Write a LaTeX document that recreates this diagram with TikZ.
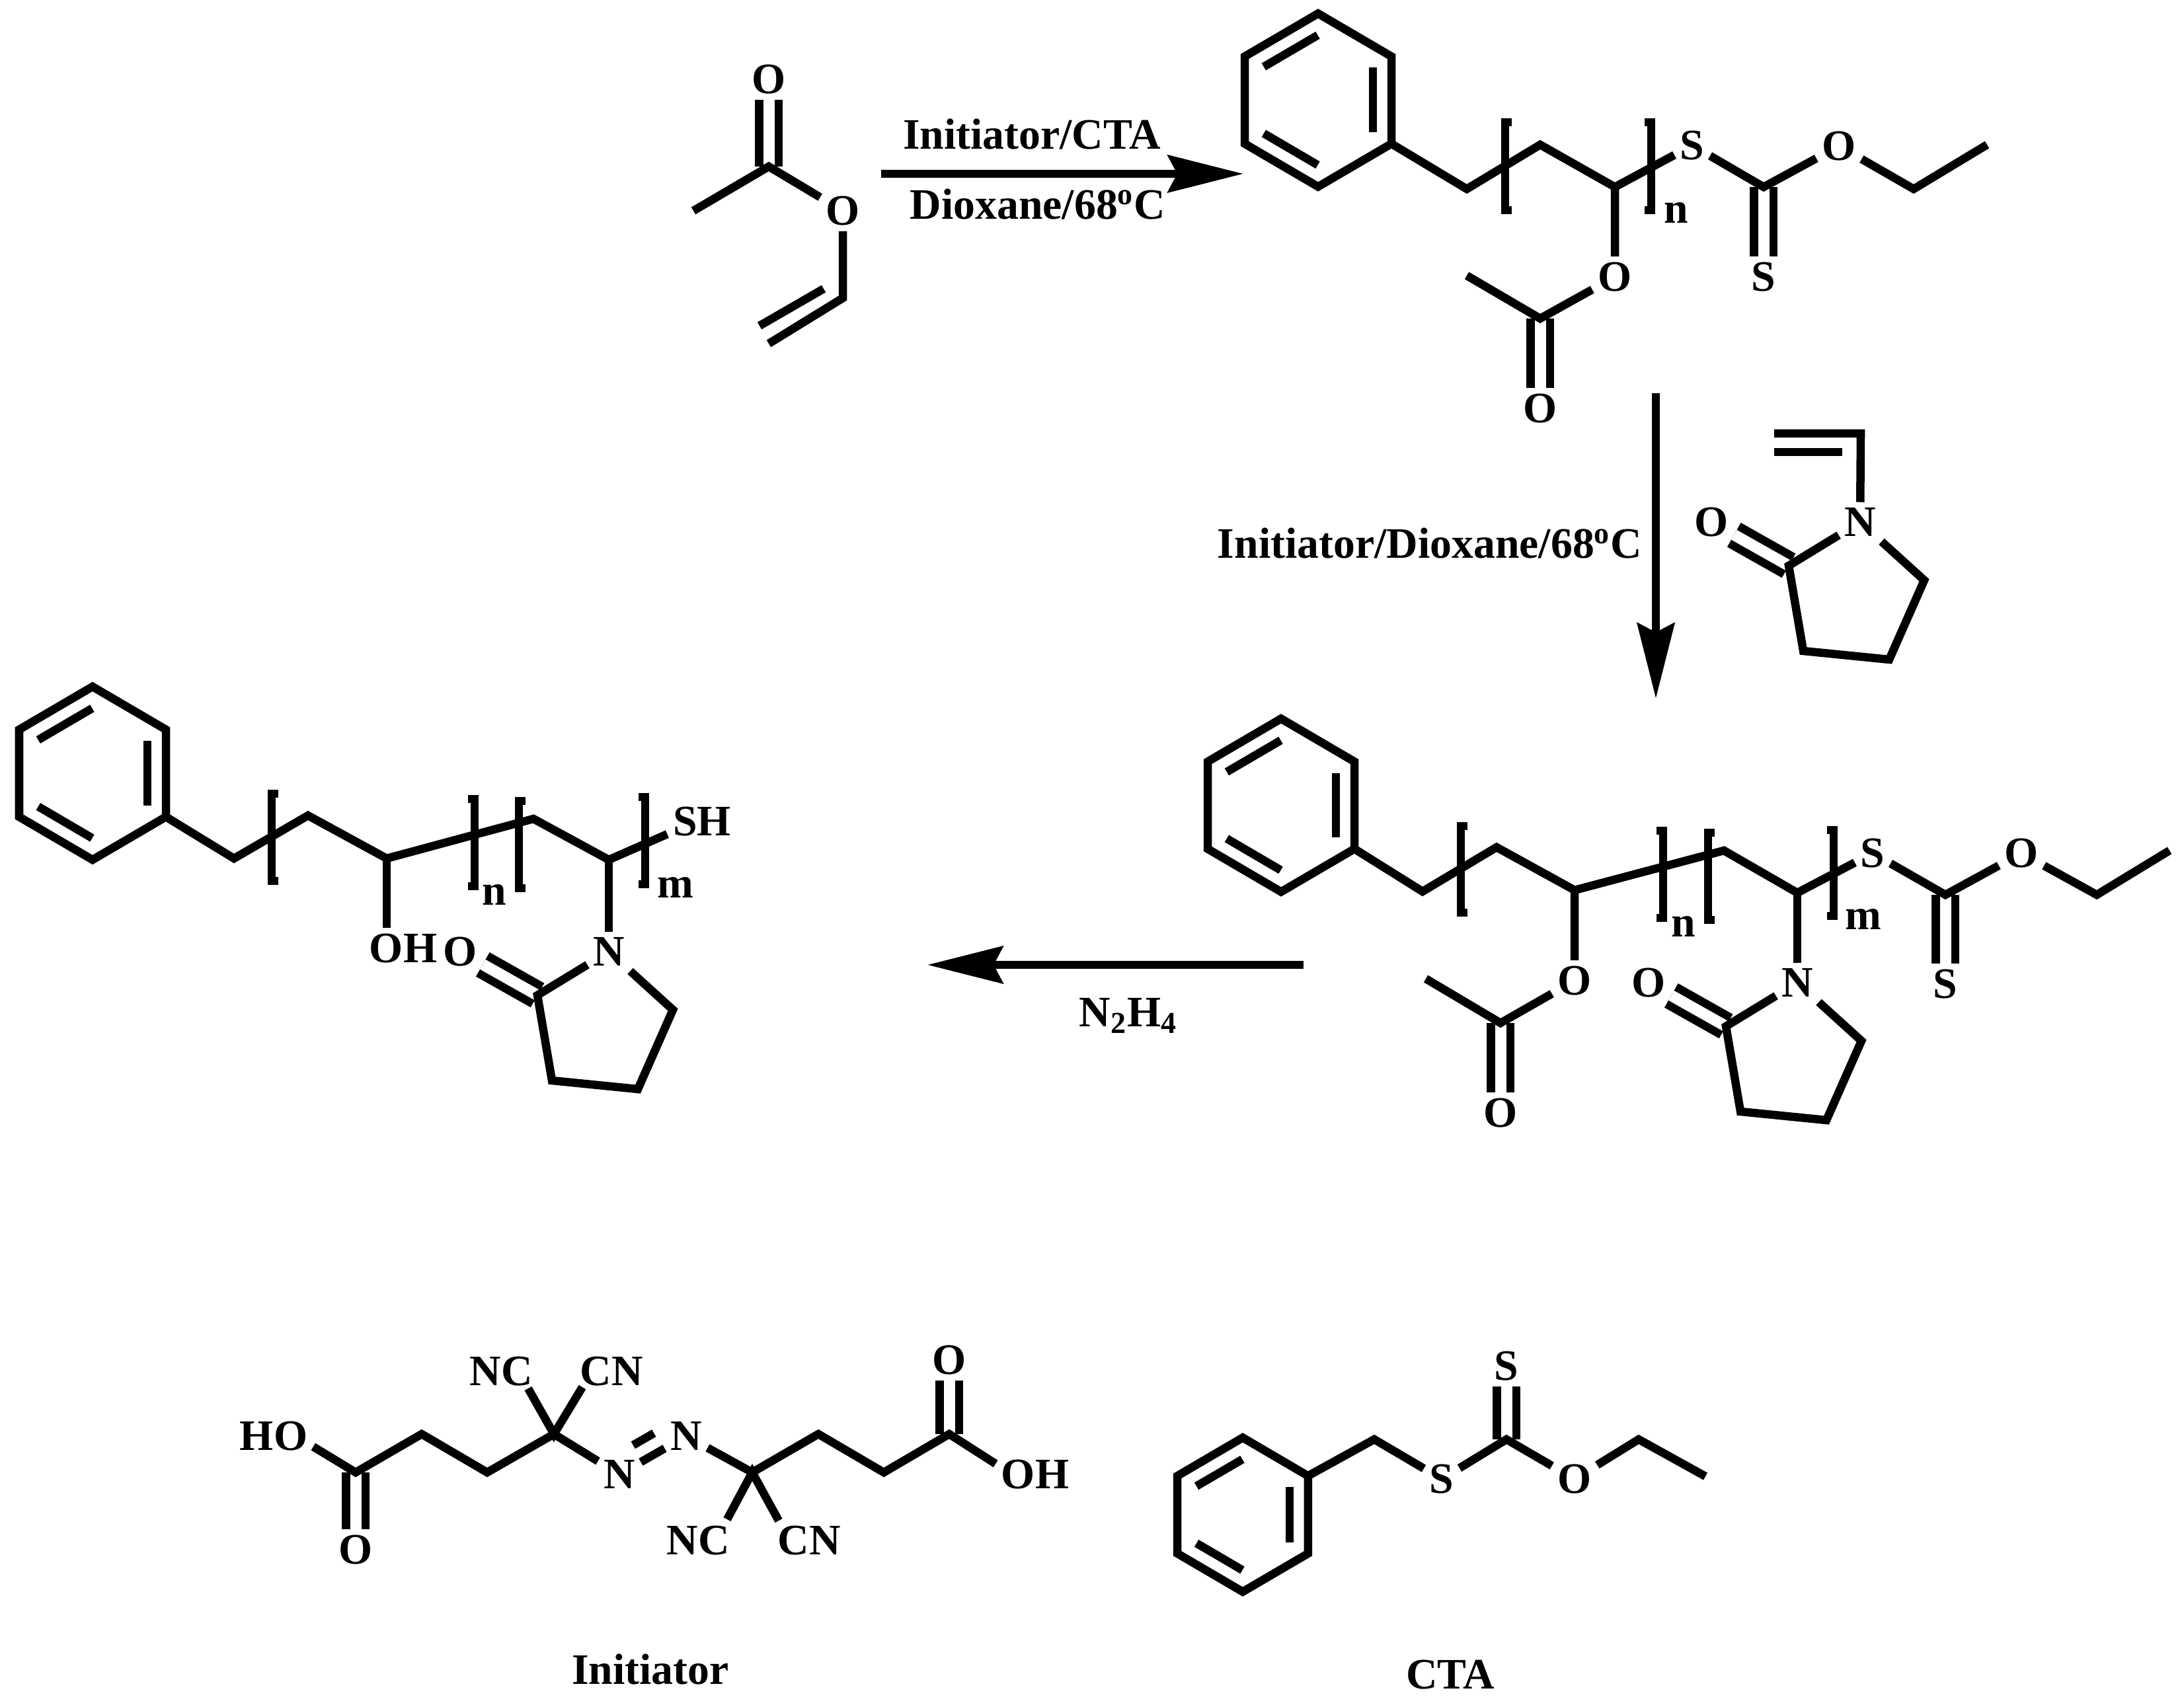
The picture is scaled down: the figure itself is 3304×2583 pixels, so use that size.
\documentclass[tikz,border=0pt]{standalone}
\usepackage{fontspec}
\setmainfont{Liberation Serif}
\usetikzlibrary{arrows.meta,calc}
\tikzset{
  bond/.style={line width=0.125cm, line join=miter, miter limit=10},
  dbond/.style={line width=0.125cm, double, double distance=0.17cm},
  brk/.style={line width=0.125cm, line join=miter},
  rxn/.style={line width=0.125cm, -{Stealth[length=1.14cm,width=0.56cm,inset=0.14cm]}},
  atom/.style={font=\fontsize{18.7}{20}\selectfont\bfseries, inner sep=0.08cm},
  lbl/.style={font=\fontsize{18.7}{20}\selectfont\bfseries, inner sep=0pt}
}
% second line of a double bond, on the left of a->b
\newcommand{\innerbond}[2]{\draw[bond, shorten <=0.17cm, shorten >=0.17cm] ($(#1)!0.28cm!90:(#2)$) -- ($(#2)!0.28cm!-90:(#1)$);}
\begin{document}
\begin{tikzpicture}[x=0.01cm, y=-0.01cm]
  \path[use as bounding box, fill=white] (0,0) rectangle (3304,2583);

  % phenyl rings
  \foreach \n/\cx/\cy/\s in {pa/1994/151.5/1, pb/1938/1218.5/1, pc/140/1170/1, pd/1880/2292/0.89}
  {
    \coordinate (\n1) at (\cx,\cy-131*\s);
    \coordinate (\n2) at (\cx+111*\s,\cy-66*\s);
    \coordinate (\n3) at (\cx+111*\s,\cy+66*\s);
    \coordinate (\n4) at (\cx,\cy+131*\s);
    \coordinate (\n5) at (\cx-111*\s,\cy+66*\s);
    \coordinate (\n6) at (\cx-111*\s,\cy-66*\s);
    \draw[bond] (\n1) -- (\n2) -- (\n3) -- (\n4) -- (\n5) -- (\n6) -- cycle;
    \innerbond{\n1}{\n6}
    \innerbond{\n5}{\n4}
    \innerbond{\n3}{\n2}
  }

  % pyrrolidone rings
  \foreach \n/\x/\y in {vp/2814/790, mb/2719/1487, mc/921/1440}
  {
    \node[atom] (\n N) at (\x,\y) {N};
    \node[atom] (\n O) at (\x-225,\y) {O};
    \coordinate (\n r1) at (\x-108,\y+66);
    \coordinate (\n r2) at (\x-86,\y+195);
    \coordinate (\n r3) at (\x+44,\y+208);
    \coordinate (\n r4) at (\x+97,\y+88);
    \draw[dbond] (\n r1) -- (\n O);
    \draw[bond] (\n N) -- (\n r1) -- (\n r2) -- (\n r3) -- (\n r4) -- (\n N);
  }

  % brackets
  \foreach \x/\ya/\yb/\d in {2277/185/318/10, 2498/185/318/-10,
    2210/1250/1381/10, 2516/1257/1389/-10, 2584/1260/1392/10, 2774/1256/1386/-10,
    411/1201/1333/10, 718/1209/1341/-10, 785/1212/1344/10, 976/1206/1338/-10}
  {
    \draw[brk] (\x+\d,\ya) -- (\x,\ya) -- (\x,\yb) -- (\x+\d,\yb);
  }

  % vinyl acetate
  \coordinate (va1) at (1049,319);
  \coordinate (va2) at (1163,252);
  \coordinate (va3) at (1275,451);
  \coordinate (va4) at (1163,520);
  \coordinate (va5) at (1149,493);
  \coordinate (va6) at (1246,437);
  \node[atom] (vaO1) at (1163,120) {O};
  \node[atom] (vaO2) at (1275,319) {O};
  \draw[dbond] (va2) -- (vaO1);
  \draw[bond] (va1) -- (va2) -- (vaO2) -- (va3) -- (va4);
  \draw[bond] (va5) -- (va6);

  % vinyl group of the lactam
  \coordinate (vp1) at (2684,656);
  \coordinate (vp2) at (2815,656);
  \coordinate (vp3) at (2684,684);
  \coordinate (vp4) at (2787,684);
  \draw[bond] (vp1) -- (vp2) -- (vpN);
  \draw[bond] (vp3) -- (vp4);

  % first polymer
  \foreach \n/\x/\y in {ma1/2219/286, ma2/2330/219, ma3/2443/283, ma5/2668/283,
    ma6/2895/286, ma7/3006/219, ma8/2330/482, ma9/2219/417}
  {
    \coordinate (\n) at (\x,\y);
  }
  \foreach \n/\x/\y/\t in {maS1/2560/220/S, maO1/2782/221/O, maS2/2668/419/S,
    maO2/2443/419/O, maO3/2330/618/O, maN/2536/322/n}
  {
    \node[atom] (\n) at (\x,\y) {\t};
  }
  \draw[dbond] (ma5) -- (maS2);
  \draw[dbond] (ma8) -- (maO3);
  \draw[bond] (pa3) -- (ma1) -- (ma2) -- (ma3) -- (maS1) -- (ma5) -- (maO1) -- (ma6) -- (ma7);
  \draw[bond] (ma3) -- (maO2) -- (ma8) -- (ma9);

  % block copolymer
  \foreach \n/\x/\y in {mb1/2152/1349, mb2/2264/1282, mb3/2382/1347, mb4/2608/1287,
    mb5/2719/1351, mb6/2943/1354, mb7/3172/1354, mb8/3282/1287, mb9/2270/1548, mb10/2157/1481}
  {
    \coordinate (\n) at (\x,\y);
  }
  \foreach \n/\x/\y/\t in {mbS1/2833/1291/S, mbO1/3058/1291/O, mbS2/2943/1489/S,
    mbO2/2382/1484/O, mbO3/2270/1684/O, mbN1/2547/1402/n, mbM/2819/1391/m}
  {
    \node[atom] (\n) at (\x,\y) {\t};
  }
  \draw[dbond] (mb6) -- (mbS2);
  \draw[dbond] (mb9) -- (mbO3);
  \draw[bond] (pb3) -- (mb1) -- (mb2) -- (mb3) -- (mb4) -- (mb5) -- (mbS1) -- (mb6) -- (mbO1) -- (mb7) -- (mb8);
  \draw[bond] (mb3) -- (mbO2) -- (mb9) -- (mb10);
  \draw[bond] (mb5) -- (mbN);

  % hydrolysed polymer
  \foreach \n/\x/\y in {mc1/354/1299, mc2/466/1234, mc3/585/1299, mc4/807/1239, mc5/921/1301}
  {
    \coordinate (\n) at (\x,\y);
  }
  \foreach \n/\x/\y/\t in {mcOH/610/1435/OH, mcSH/1062/1243/SH, mcN1/748/1354/n, mcM/1022/1343/m}
  {
    \node[atom] (\n) at (\x,\y) {\t};
  }
  \draw[bond] (pc3) -- (mc1) -- (mc2) -- (mc3) -- (mc4) -- (mc5) -- (mcSH.200);
  \draw[bond] (mc3) -- (mc3 |- mcOH.north);
  \draw[bond] (mc5) -- (mcN);

  % initiator
  \foreach \n/\x/\y in {in1/538/2228, in2/638/2170, in3/737/2228, in4/838/2170,
    in5/1138/2228, in6/1238/2170, in7/1337/2228, in8/1436/2170,
    inb1/799/2101, inb2/881/2099, inb3/1100/2299, inb4/1178/2301}
  {
    \coordinate (\n) at (\x,\y);
  }
  \foreach \n/\x/\y/\t in {inHO/414/2173/HO, inO1/538/2345/O, inNC1/758/2075/NC, inCN1/925/2075/CN,
    inN1/937/2231/N, inN2/1038/2173/N, inNC2/1056/2331/NC, inCN2/1224/2331/CN,
    inO2/1436/2058/O, inOH/1566/2231/OH}
  {
    \node[atom] (\n) at (\x,\y) {\t};
  }
  \draw[dbond] (in1) -- (inO1);
  \draw[dbond] (in8) -- (inO2);
  \draw[bond] (inHO.-15) -- (in1) -- (in2) -- (in3) -- (in4) -- (inN1);
  \draw[bond] (inN2) -- (in5) -- (in6) -- (in7) -- (in8) -- (inOH.165);
  \draw[bond] (inb1) -- (in4) -- (inb2);
  \draw[bond] (inb3) -- (in5) -- (inb4);
  \draw[bond] (inN1) -- (inN2);
  \draw[bond, shorten <=0.4cm, shorten >=0.4cm] ($(inN1)!0.28cm!90:(inN2)$) -- ($(inN2)!0.28cm!-90:(inN1)$);

  % chain transfer agent
  \foreach \n/\x/\y in {ct1/2079/2178, ct2/2279/2178, ct3/2479/2178, ct4/2580/2234}
  {
    \coordinate (\n) at (\x,\y);
  }
  \node[atom] (ctS1) at (2181,2238) {S};
  \node[atom] (ctS2) at (2279,2067) {S};
  \node[atom] (ctO1) at (2382,2238) {O};
  \draw[dbond] (ct2) -- (ctS2);
  \draw[bond] (pd2) -- (ct1) -- (ctS1) -- (ct2) -- (ctO1) -- (ct3) -- (ct4);

  % reaction arrows
  \coordinate (ara) at (1333,263);
  \coordinate (arb) at (1881,263);
  \coordinate (arc) at (2505,595);
  \coordinate (ard) at (2505,1057);
  \coordinate (are) at (1972,1460);
  \coordinate (arf) at (1403,1460);
  \draw[rxn] (ara) -- (arb);
  \draw[rxn] (arc) -- (ard);
  \draw[rxn] (are) -- (arf);

  \node[lbl] (condA) at (1561,203) {Initiator/CTA};
  \node[lbl] (condB) at (1570,309) {Dioxane/68\textsuperscript{o}C};
  \node[lbl] (condC) at (2163,822) {Initiator/Dioxane/68\textsuperscript{o}C};
  \node[lbl] (condD) at (1707,1537) {N\textsubscript{2}H\textsubscript{4}};
  \node[lbl] (nameA) at (984,2526) {Initiator};
  \node[lbl] (nameB) at (2194,2534) {CTA};
\end{tikzpicture}
\end{document}
